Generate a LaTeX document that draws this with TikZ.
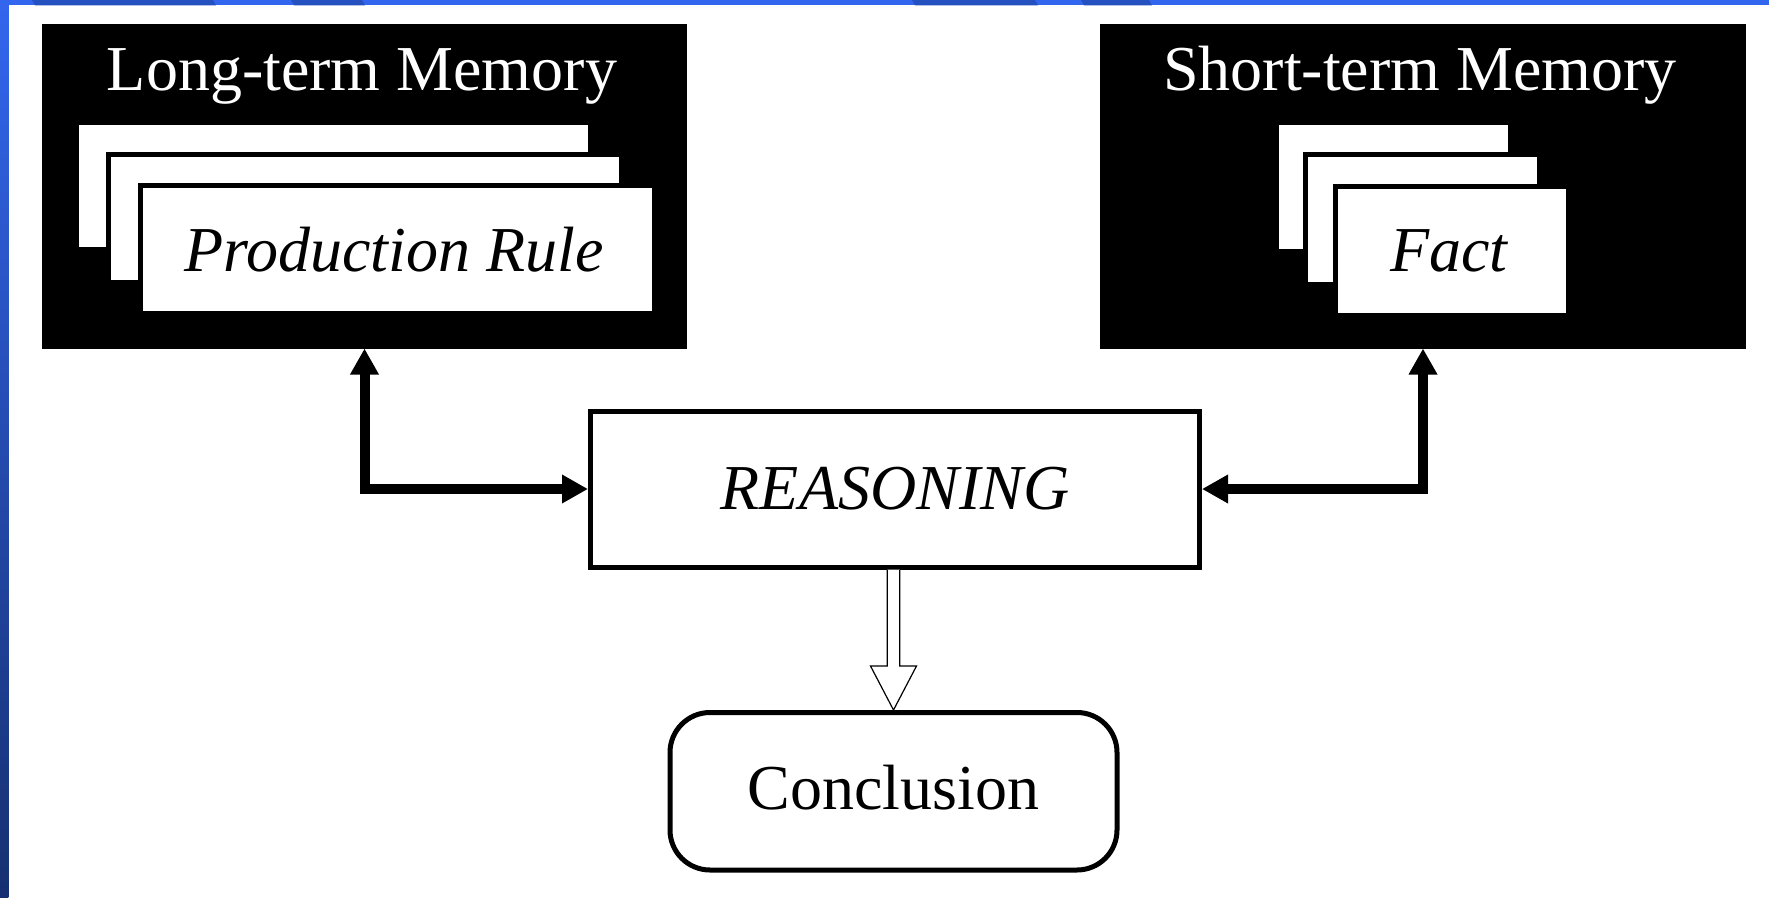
\documentclass[tikz,border=0pt]{standalone}
\usepackage{fontspec}
\setmainfont{Liberation Serif}
\usetikzlibrary{arrows.meta,calc}
\definecolor{barblue}{RGB}{51,102,238}
\definecolor{bardark}{RGB}{36,80,192}
\definecolor{barnavy}{RGB}{22,48,112}
\begin{document}
\begin{tikzpicture}[x=1pt,y=-1pt,
  bigfont/.style={font=\fontsize{64}{72}\selectfont},
  itfont/.style={font=\fontsize{64}{72}\selectfont\itshape},
  membox/.style={fill=black, inner sep=0pt, outer sep=0pt, anchor=north west},
  card/.style={fill=white, draw=black, line width=5pt},
  conn/.style={line width=10pt, {Triangle[width=27pt,length=26pt]}-{Triangle[width=27pt,length=26pt]}},
  hollow/.style={line width=1.2pt, fill=white, draw=black},
  ]
\useasboundingbox (0,0) rectangle (1769,897);
\fill[white] (0,0) rectangle (1769,897);
% frame bars
\fill[barblue] (0,0) rectangle (1769,5.3);
\foreach \a/\b in {32/213, 291/362, 912/1035, 1081/1149}
  \fill[bardark] (\a,0) -- (\b,0) -- (\b+3,5.3) -- (\a+3,5.3) -- cycle;
\shade[top color=barblue, bottom color=barnavy] (0,0) rectangle (8.3,897);

% memory boxes
\node[membox, minimum width=645pt, minimum height=325pt] (ltm) at (42,23.5) {};
\node[membox, minimum width=646pt, minimum height=325pt] (stm) at (1100,23.5) {};

\node[bigfont, text=white, anchor=base] (ltmtitle) at (362,90) {Long-term Memory};
\node[bigfont, text=white, anchor=base] (stmtitle) at (1420,90) {Short-term Memory};

% left cards
\draw[card] (76.5,122.5) rectangle (590.5,249.5);
\draw[card] (108.5,154.5) rectangle (621.5,282.5);
\draw[card] (140.5,185.5) rectangle (654.5,313.5);
\node[itfont, anchor=base] (rule) at (394,271) {Production Rule};

% right cards
\draw[card] (1276.5,122.5) rectangle (1510.5,251.5);
\draw[card] (1305.8,154.2) rectangle (1539.8,284.2);
\draw[card] (1335.5,186.2) rectangle (1568.5,315.8);
\node[itfont, anchor=base] (fact) at (1449,271) {Fact};

% reasoning
\node[draw, line width=5pt, fill=white, minimum width=609pt, minimum height=156pt,
      inner sep=0pt, itfont, text height=44pt, text depth=4pt] (reason) at (895,489) {REASONING};

% conclusion
\node[draw, line width=5pt, rounded corners=40pt, minimum width=447pt, minimum height=157.5pt,
      inner sep=0pt, bigfont, text height=44pt, text depth=7.5pt] (concl) at (893.5,791.25) {Conclusion};

% connectors
\draw[conn] (ltm.south) |- (reason.west);
\draw[conn] (stm.south) |- (reason.east);

\coordinate (dt) at (concl.north);
\coordinate (ds) at (reason.south -| dt);
\draw[hollow] ($(ds)+(-6.3,0)$) -- ($(dt)+(-6.3,-44)$) -- ($(dt)+(-23,-44)$) -- (dt)
  -- ($(dt)+(23,-44)$) -- ($(dt)+(6.3,-44)$) -- ($(ds)+(6.3,0)$);
\end{tikzpicture}
\end{document}
